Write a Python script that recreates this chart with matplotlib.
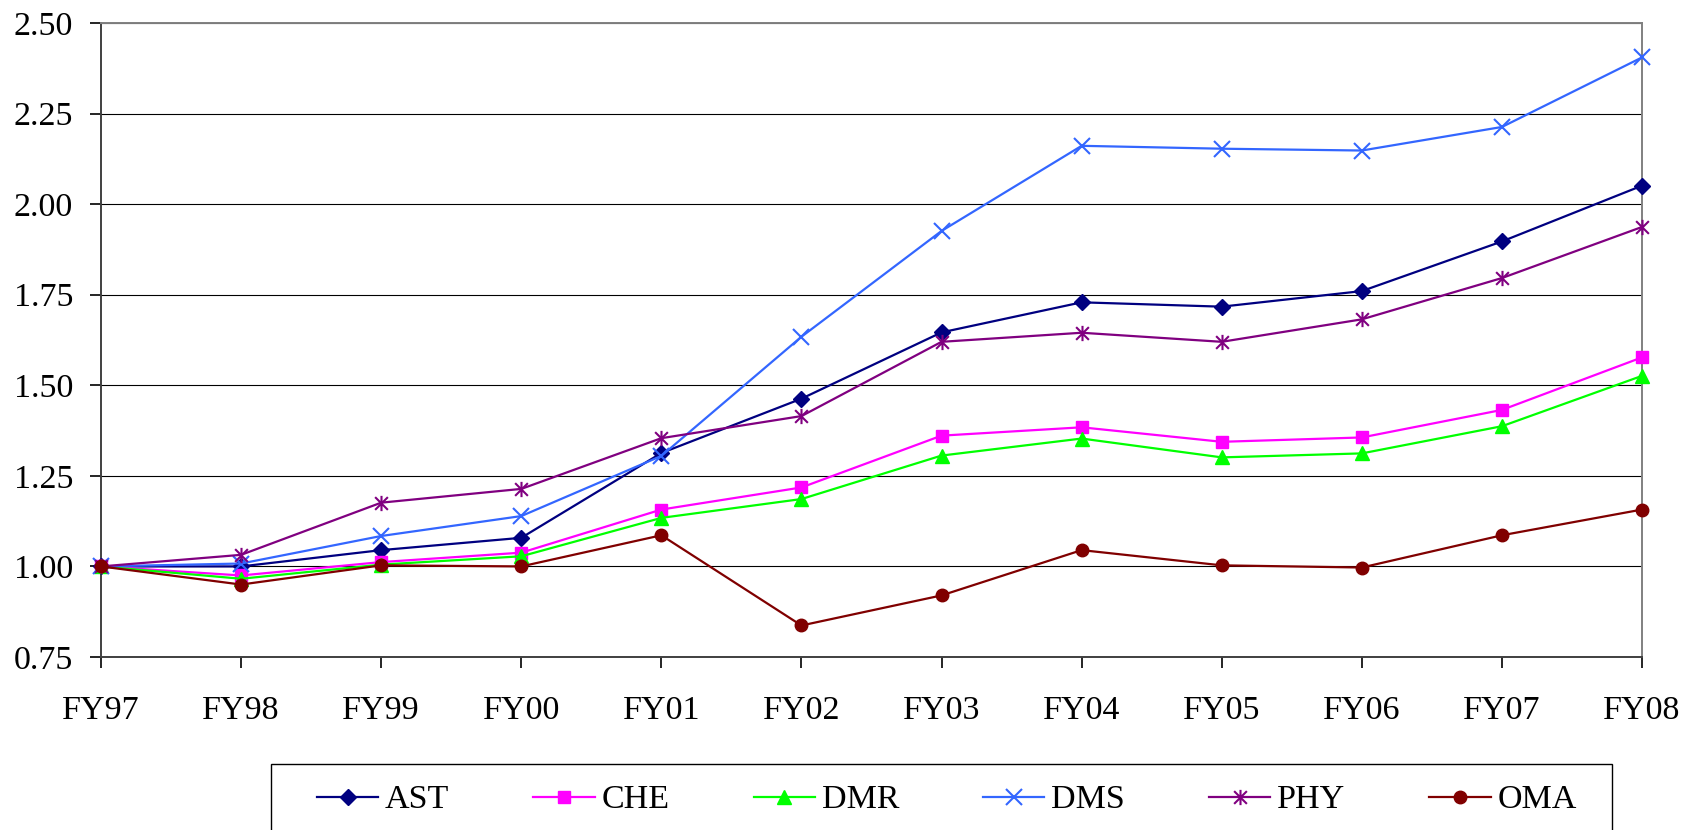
import matplotlib
matplotlib.use("Agg")
import matplotlib.pyplot as plt
from matplotlib.path import Path
from matplotlib.patches import Rectangle

# Fiscal years on the category axis
years = ["FY97", "FY98", "FY99", "FY00", "FY01", "FY02",
         "FY03", "FY04", "FY05", "FY06", "FY07", "FY08"]

# Index values per division (FY97 = 1.00)
ast = [1.00, 1.00, 1.045, 1.079, 1.313, 1.463, 1.646, 1.729, 1.717, 1.760, 1.897, 2.051]
che = [1.00, 0.975, 1.012, 1.038, 1.157, 1.218, 1.361, 1.384, 1.344, 1.356, 1.432, 1.577]
dmr = [1.00, 0.966, 1.005, 1.028, 1.134, 1.186, 1.306, 1.353, 1.301, 1.312, 1.387, 1.526]
dms = [1.00, 1.008, 1.084, 1.139, 1.305, 1.634, 1.926, 2.161, 2.153, 2.148, 2.213, 2.405]
phy = [1.00, 1.032, 1.176, 1.214, 1.354, 1.415, 1.620, 1.645, 1.620, 1.682, 1.796, 1.937]
oma = [1.00, 0.950, 1.003, 1.000, 1.086, 0.837, 0.920, 1.045, 1.003, 0.997, 1.086, 1.157]

series_names = ["AST", "CHE", "DMR", "DMS", "PHY", "OMA"]
y_ticks = [0.75, 1.00, 1.25, 1.50, 1.75, 2.00, 2.25, 2.50]

# Asterisk-style marker: an X crossed by a vertical bar
star_path = Path(
    [(-1, -1), (1, 1), (-1, 1), (1, -1), (0, -1.2), (0, 1.2)],
    [Path.MOVETO, Path.LINETO, Path.MOVETO, Path.LINETO, Path.MOVETO, Path.LINETO],
)

styles = [
    dict(color="#000080", marker="D", ms=8.5, mec="#000080", mfc="#000080"),
    dict(color="#FF00FF", marker="s", ms=9, mec="#FF00FF", mfc="#FF00FF"),
    dict(color="#00FF00", marker="^", ms=10.5, mec="#00FF00", mfc="#00FF00"),
    dict(color="#3366FF", marker="x", ms=11, mew=1.5, mec="#3366FF"),
    dict(color="#800080", marker=star_path, ms=11, mew=1.5, mec="#800080"),
    dict(color="#800000", marker="o", ms=9, mec="#800000", mfc="#800000"),
]

plt.rcParams["font.family"] = ["Liberation Serif", "DejaVu Serif"]

W, H = 1696, 830
fig = plt.figure(figsize=(W / 100, H / 100), dpi=100)
ax = fig.add_axes([101 / W, 1 - 657 / H, (1642 - 101) / W, (657 - 23) / H])

x = list(range(len(years)))
handles = []
for name, vals, st in zip(series_names, [ast, che, dmr, dms, phy, oma], styles):
    st = dict(st)
    color = st.pop("color")
    (h,) = ax.plot(x, vals, color=color, lw=1.6, label=name, clip_on=False,
                   zorder=3, **st)
    handles.append(h)

ax.set_xlim(0, len(years) - 1)
ax.set_ylim(0.75, 2.50)
ax.set_xticks(x)
ax.set_xticklabels(years)
ax.set_yticks(y_ticks)
ax.set_yticklabels([f"{v:.2f}" for v in y_ticks])

ax.yaxis.grid(True, color="black", lw=0.8)
ax.set_axisbelow(True)

for side in ("left", "bottom"):
    ax.spines[side].set_color("#404040")
    ax.spines[side].set_linewidth(1.4)
for side in ("top", "right"):
    ax.spines[side].set_color("#808080")
    ax.spines[side].set_linewidth(1.4)

ax.tick_params(axis="both", labelsize=24.5, colors="black", direction="out",
               length=8, width=1.2)
ax.tick_params(axis="y", pad=12)
ax.tick_params(axis="x", pad=20)
for t in ax.get_xticklines() + ax.get_yticklines():
    t.set_color("#404040")

# Legend frame, running off the bottom edge of the figure
fig.patches.append(Rectangle((271 / W, -0.05), (1612 - 271) / W, (1 - 764 / H) + 0.05,
                             transform=fig.transFigure, facecolor="white",
                             edgecolor="black", lw=1.0, zorder=0))

leg = fig.legend(handles=handles, labels=series_names, loc="center left",
                 bbox_to_anchor=(317 / W, 1 - 800 / H), ncol=6, frameon=False,
                 fontsize=24.5, handlelength=1.8, handletextpad=0.2,
                 columnspacing=2.47, borderpad=0, borderaxespad=0)

fig.savefig("out.png", dpi=100)
